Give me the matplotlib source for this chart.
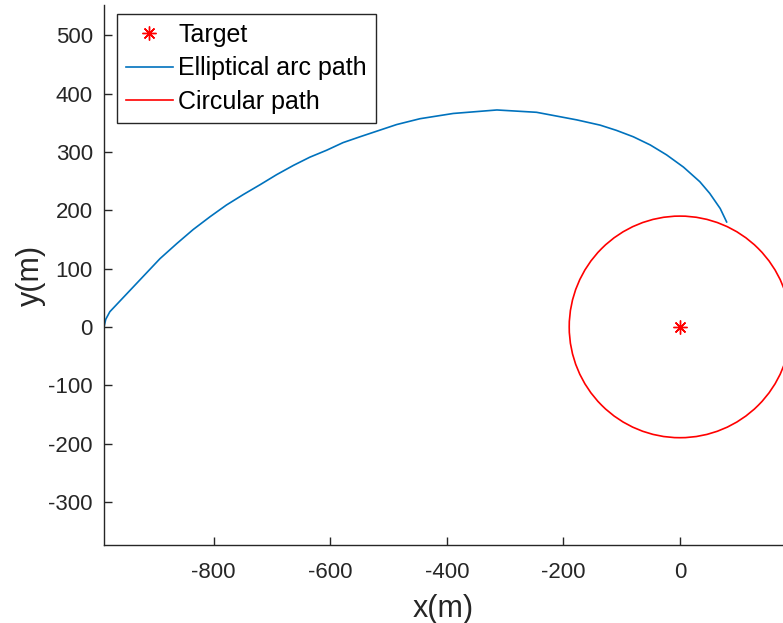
import matplotlib.pyplot as plt
from matplotlib.patches import Circle
from matplotlib.lines import Line2D

plt.rcParams['font.family'] = ['Liberation Sans', 'DejaVu Sans']
plt.rcParams['axes.unicode_minus'] = False

# target and circle
target_x = [0]
target_y = [0]
circle_radius = 190

# elliptical arc path
arc_x = [-988, -985, -978, -892, -863, -835, -806, -778, -749, -720, -692,
         -663, -635, -606, -578, -549, -486, -446, -389, -314, -246, -177,
         -137, -109, -80, -51, -23, 6, 34, 51, 69, 80]
arc_y = [0, 13, 26, 117, 143, 167, 189, 209, 227, 244, 261,
         277, 291, 303, 316, 326, 347, 357, 366, 372, 368, 355,
         346, 337, 326, 312, 295, 274, 249, 229, 203, 180]

xticks = [-800, -600, -400, -200, 0]
yticks = [-300, -200, -100, 0, 100, 200, 300, 400, 500]

fig = plt.figure(figsize=(7.83, 6.23), dpi=100)
ax = fig.add_axes([104 / 783, 1 - 545 / 623, 679 / 783, 540 / 623])

ax.plot(target_x, target_y, linestyle='none', marker=(8, 2, 0), markersize=10,
        color='#FF0000', markeredgewidth=1.0)
ax.plot(arc_x, arc_y, color='#0072BD', linewidth=1.2)
ax.add_patch(Circle((target_x[0], target_y[0]), circle_radius, fill=False,
                    edgecolor='#FF0000', linewidth=1.2))

ax.set_xlim(-988, 176.7)
ax.set_ylim(-374, 552)
ax.set_xticks(xticks)
ax.set_yticks(yticks)

for s in ['top', 'right']:
    ax.spines[s].set_visible(False)
for s in ['left', 'bottom']:
    ax.spines[s].set_color('#262626')
    ax.spines[s].set_linewidth(1.0)
ax.tick_params(direction='in', length=6, width=1.0, colors='#262626',
               labelsize=16, pad=12)
ax.tick_params(axis='y', pad=8)

ax.set_xlabel('x(m)', fontsize=22, color='#262626', labelpad=8)
ax.set_ylabel('y(m)', fontsize=22, color='#262626', labelpad=2)

handles = [
    Line2D([], [], linestyle='none', marker=(8, 2, 0), markersize=10,
           color='#FF0000', markeredgewidth=1.0),
    Line2D([], [], color='#0072BD', linewidth=1.2),
    Line2D([], [], color='#FF0000', linewidth=1.2),
]
labels = ['Target', 'Elliptical arc path', 'Circular path']
leg = ax.legend(handles, labels, loc='upper left', bbox_to_anchor=(0.019, 0.983),
                borderaxespad=0, fontsize=18, fancybox=False, framealpha=1,
                edgecolor='#262626', handlelength=1.9, handletextpad=0.2,
                labelspacing=0.38, borderpad=0.35)
leg.get_frame().set_linewidth(1.0)

plt.savefig('out.png', dpi=100)
